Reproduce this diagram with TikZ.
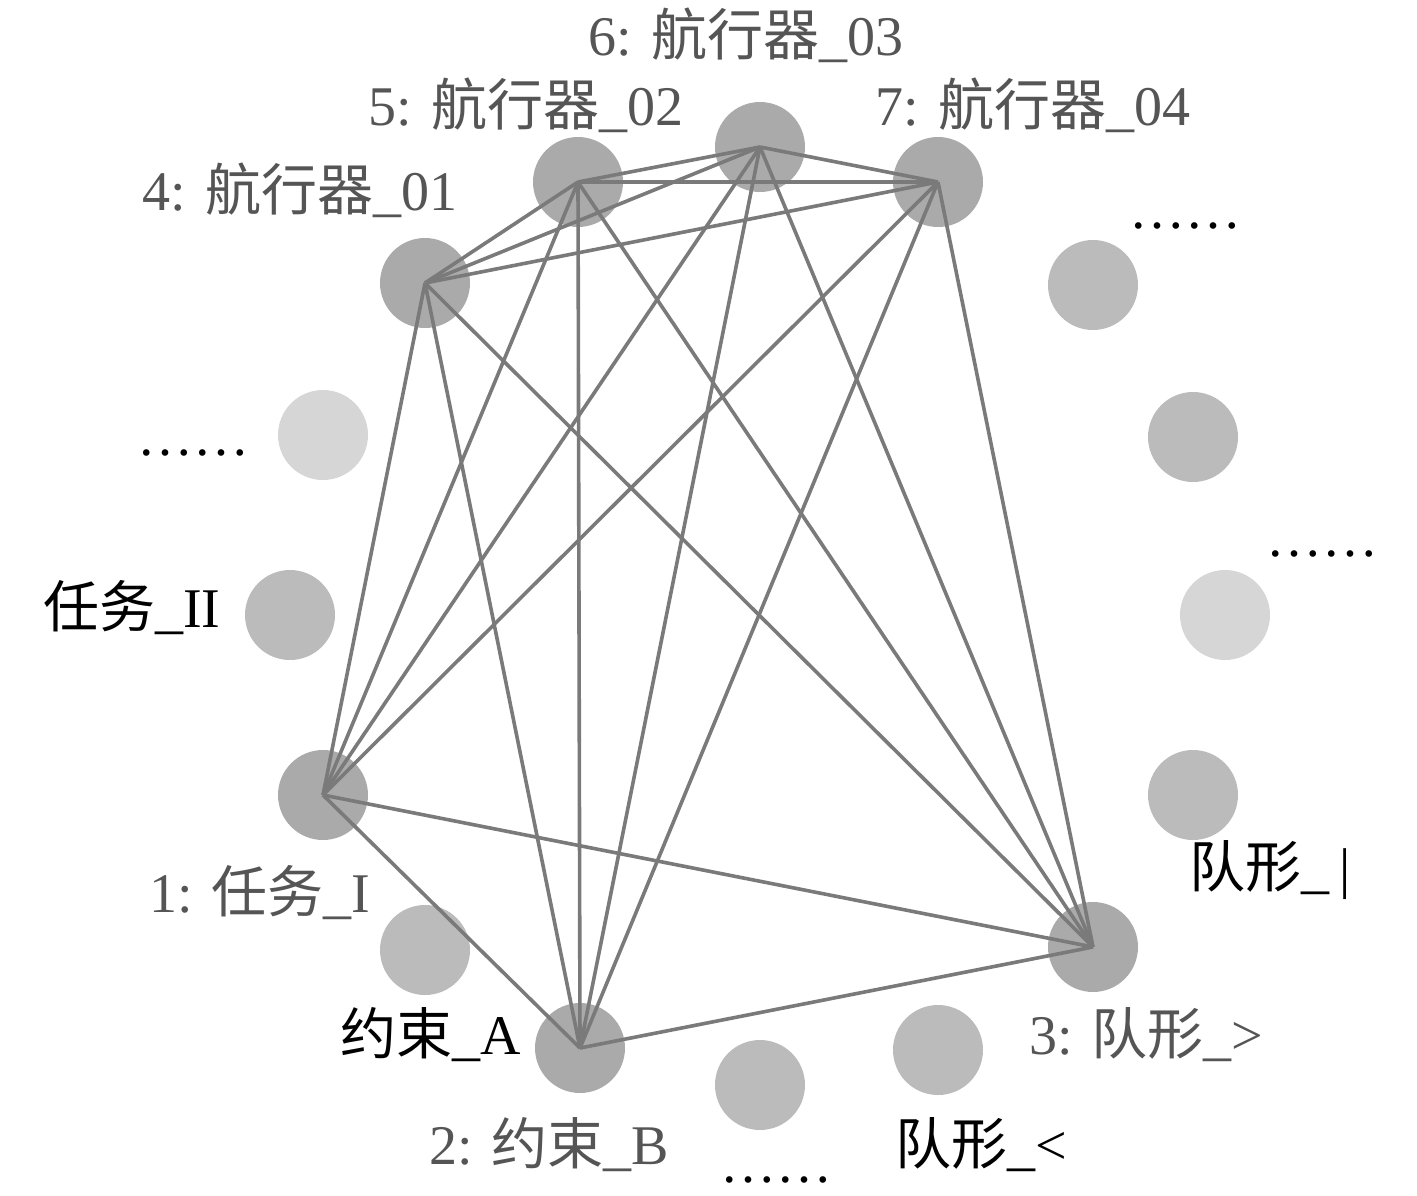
\documentclass[tikz,border=0pt]{standalone}
\usepackage{fontspec}
\setmainfont{Liberation Serif}
\newfontfamily\cjk{Noto Sans CJK SC}
\newcommand{\zh}[1]{{\cjk #1}}
\begin{document}
\begin{tikzpicture}[x=1pt,y=-1pt,
  dot/.style={circle,draw=none,minimum size=90pt,inner sep=0pt},
  dk/.style={dot,fill=cDark},
  md/.style={dot,fill=cMid},
  lt/.style={dot,fill=cLight},
  edge/.style={draw=cEdge,line width=3.6pt},
  lbl/.style={inner sep=0pt,font=\fontsize{56}{60}\selectfont},
  num/.style={lbl,text=cNum},
  blk/.style={lbl,text=black},
  dots/.style={blk,anchor=base,text depth=0pt,text height=8pt}]
\definecolor{cDark}{HTML}{AAAAAA}
\definecolor{cMid}{HTML}{BBBBBB}
\definecolor{cLight}{HTML}{D6D6D6}
\definecolor{cEdge}{HTML}{7A7A7A}
\definecolor{cNum}{HTML}{555555}
\useasboundingbox (0,0) rectangle (1417,1195);
% numbered nodes
\node[dk] (n1) at (323,795) {};
\node[dk] (n2) at (580,1048) {};
\node[dk] (n3) at (1093,947) {};
\node[dk] (n4) at (425,283) {};
\node[dk] (n5) at (578,182) {};
\node[dk] (n6) at (760,147) {};
\node[dk] (n7) at (938,182) {};
% other nodes
\node[lt] (a1) at (323,435) {};
\node[md] (a2) at (290,615) {};
\node[md] (a3) at (425,950) {};
\node[md] (a4) at (760,1085) {};
\node[md] (a5) at (938,1050) {};
\node[md] (a6) at (1093,285) {};
\node[md] (a7) at (1193,437) {};
\node[lt] (a8) at (1225,615) {};
\node[md] (a9) at (1193,795) {};
% edges (complete graph on 1..7)
\foreach \i/\j in {1/2,1/3,1/4,1/5,1/6,1/7,2/3,2/4,2/5,2/6,2/7,3/4,3/5,3/6,3/7,4/5,4/6,4/7,5/6,5/7,6/7}
  \draw[edge] (n\i.center) -- (n\j.center);
% labels
\node[num] (t6) at (746,35) {6: \zh{航行器}\_03};
\node[num] (t5) at (526,105) {5: \zh{航行器}\_02};
\node[num] (t7) at (1033,105) {7: \zh{航行器}\_04};
\node[num] (t4) at (300,190) {4: \zh{航行器}\_01};
\node[num] (t1) at (260,893) {1: \zh{任务}\_I};
\node[num] (t2) at (549,1145) {2: \zh{约束}\_B};
\node[num] (t3) at (1146,1035) {3: \zh{队形}\_>};
\node[blk] (b1) at (132,608) {\zh{任务}\_II};
\node[blk] (b2) at (431,1035) {\zh{约束}\_A};
\node[blk] (b3) at (981,1145) {\zh{队形}\_<};
\node[blk] (b4) at (1270,870) {\zh{队形}\_\,|};
\node[dots] (d1) at (193,455) {……};
\node[dots] (d2) at (1185,228) {……};
\node[dots] (d3) at (1322,556) {……};
\node[dots] (d4) at (776,1182) {……};
\end{tikzpicture}
\end{document}
